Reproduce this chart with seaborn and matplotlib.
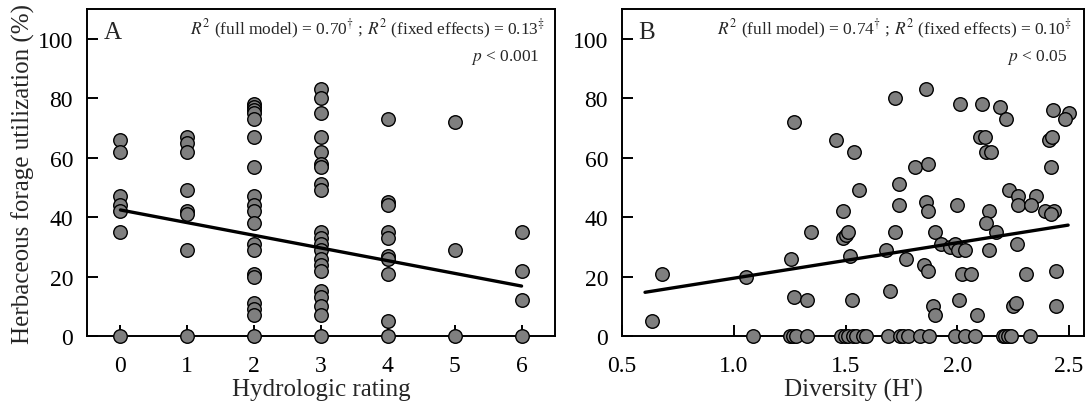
import numpy as np
import pandas as pd
import matplotlib
matplotlib.use("Agg")
import matplotlib.pyplot as plt
import seaborn as sns

# ---------------- data ----------------
# Panel A: hydrologic rating vs utilization (%)
hydro_rating = ([0] * 7 + [1] * 8 + [2] * 19 + [3] * 21 + [4] * 10 + [5] * 3 + [6] * 4)
hydro_util = [66, 62, 47, 44, 42, 35, 0,
              67, 65, 62, 49, 42, 41, 29, 0,
              78, 77, 76, 75, 73, 67, 57, 47, 44, 42, 38, 31, 29, 21, 20, 11, 9, 7, 0,
              83, 80, 75, 67, 62, 58, 57, 51, 49, 35, 33, 31, 29, 26, 24, 22, 15, 13, 10, 7, 0,
              73, 45, 44, 35, 33, 27, 26, 21, 5, 0,
              72, 29, 0,
              35, 22, 12, 0]
fitA_x = [0, 6]
fitA_y = [42.4, 16.8]

# Panel B: diversity (H') vs utilization (%)
div_h = [0.636, 0.678, 1.057, 1.270, 1.256, 1.270, 1.328, 1.347, 1.459, 1.489,
         1.489, 1.500, 1.511, 1.519, 1.537, 1.530, 1.561, 1.720, 1.860, 1.811,
         1.869, 1.739, 1.739, 1.859, 1.869, 1.720, 1.899, 1.929, 1.680, 1.769,
         1.849, 1.869, 1.698, 1.891, 1.899, 2.010, 2.110, 2.190, 2.220, 2.100,
         2.123, 2.130, 2.150, 2.430, 2.502, 2.481, 2.409, 2.426, 2.421, 2.000,
         2.232, 2.272, 2.351, 2.272, 2.332, 2.142, 2.391, 2.432, 2.421, 2.130,
         2.172, 2.269, 2.142, 1.966, 1.989, 2.004, 2.033, 2.019, 2.062, 2.309,
         2.440, 2.008, 2.090, 2.249, 2.262, 2.440,
         1.088, 1.250, 1.265, 1.280, 1.327, 1.482, 1.496, 1.511, 1.534, 1.546,
         1.578, 1.593, 1.690, 1.742, 1.757, 1.780, 1.832, 1.874, 1.989, 2.033,
         2.078, 2.205, 2.215, 2.227, 2.242, 2.324]
div_util = [5, 21, 20, 72, 26, 13, 12, 35, 66, 42,
            33, 34, 35, 27, 62, 12, 49, 80, 83, 57,
            58, 51, 44, 45, 42, 35, 35, 31, 29, 26,
            24, 22, 15, 10, 7, 78, 78, 77, 73, 67,
            67, 62, 62, 76, 75, 73, 66, 67, 57, 44,
            49, 47, 47, 44, 44, 42, 42, 42, 41, 38,
            35, 31, 29, 30, 31, 29, 29, 21, 21, 21,
            22, 12, 7, 10, 11, 10,
            0, 0, 0, 0, 0, 0, 0, 0, 0, 0,
            0, 0, 0, 0, 0, 0, 0, 0, 0, 0,
            0, 0, 0, 0, 0, 0]
fitB_x = [0.603, 2.496]
fitB_y = [14.7, 37.3]

# ---------------- style ----------------
sns.set_theme(style="ticks")
plt.rcParams["font.family"] = ["Liberation Serif", "DejaVu Serif"]
plt.rcParams["mathtext.fontset"] = "stix"
plt.rcParams["axes.linewidth"] = 1.4
plt.rcParams["xtick.direction"] = "in"
plt.rcParams["ytick.direction"] = "in"

fig = plt.figure(figsize=(10.89, 4.10), dpi=100)
axA = fig.add_axes([87 / 1089, 73 / 410, 468 / 1089, 327 / 410])
axB = fig.add_axes([622 / 1089, 73 / 410, 462 / 1089, 327 / 410])

dfA = pd.DataFrame({"x": hydro_rating, "y": hydro_util})
dfB = pd.DataFrame({"x": div_h, "y": div_util})

pt_kw = dict(color="#7f7f7f", edgecolor="black", linewidth=1.0, s=95,
             clip_on=False, zorder=3, legend=False)

sns.scatterplot(data=dfA, x="x", y="y", ax=axA, **pt_kw)
sns.lineplot(x=fitA_x, y=fitA_y, ax=axA, color="black", linewidth=2.4, zorder=4)
sns.scatterplot(data=dfB, x="x", y="y", ax=axB, **pt_kw)
sns.lineplot(x=fitB_x, y=fitB_y, ax=axB, color="black", linewidth=2.4, zorder=4)

for ax in (axA, axB):
    ax.set_ylim(0, 110)
    ax.set_yticks([0, 20, 40, 60, 80, 100])
    for s in ax.spines.values():
        s.set_visible(True)
        s.set_color("black")
        s.set_linewidth(1.4)
    ax.tick_params(axis="both", direction="in", length=8, width=1.4,
                   labelsize=17, colors="black", top=False, right=False)
    ax.tick_params(axis="x", pad=14)
    ax.tick_params(axis="y", pad=10)

axA.set_xlim(-0.5, 6.5)
axA.set_xticks([0, 1, 2, 3, 4, 5, 6])
axB.set_xlim(0.5, 2.567)
axB.set_xticks([0.5, 1.0, 1.5, 2.0, 2.5])
axB.set_xticklabels(["0.5", "1.0", "1.5", "2.0", "2.5"])

axA.set_xlabel("Hydrologic rating", fontsize=18, labelpad=1)
axB.set_xlabel("Diversity (H')", fontsize=18, labelpad=1)
axA.set_ylabel("Herbaceous forage utilization (%)", fontsize=18, labelpad=2)
axB.set_ylabel("")

axA.text(0.035, 0.93, "A", transform=axA.transAxes, fontsize=18,
         ha="left", va="center")
axB.text(0.035, 0.93, "B", transform=axB.transAxes, fontsize=18,
         ha="left", va="center")

axA.text(0.98, 0.94,
         r"$R^2$ (full model) = 0.70$^{\dagger}$ ; $R^2$ (fixed effects) = 0.13$^{\ddagger}$",
         transform=axA.transAxes, fontsize=12.5, ha="right", va="center")
axA.text(0.967, 0.855, r"$p$ < 0.001", transform=axA.transAxes, fontsize=12.5,
         ha="right", va="center")
axB.text(0.975, 0.94,
         r"$R^2$ (full model) = 0.74$^{\dagger}$ ; $R^2$ (fixed effects) = 0.10$^{\ddagger}$",
         transform=axB.transAxes, fontsize=12.5, ha="right", va="center")
axB.text(0.963, 0.855, r"$p$ < 0.05", transform=axB.transAxes, fontsize=12.5,
         ha="right", va="center")

fig.savefig("out.png", dpi=100)
